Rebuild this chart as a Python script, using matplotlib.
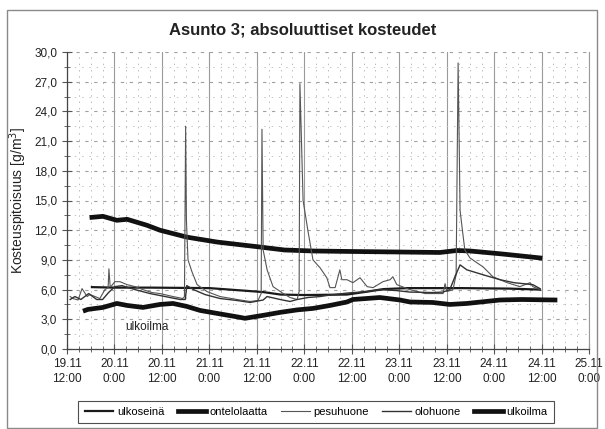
import matplotlib
matplotlib.use("Agg")
import matplotlib.pyplot as plt
from matplotlib.patches import Rectangle
from matplotlib.ticker import FixedLocator, FixedFormatter

plt.rcParams['font.family'] = ['Liberation Sans', 'DejaVu Sans']

# Time axis: hours from 19.11 12:00
x_tick_labels = ["19.11\n12:00", "20.11\n0:00", "20.11\n12:00", "21.11\n0:00",
                 "21.11\n12:00", "22.11\n0:00", "22.11\n12:00", "23.11\n0:00",
                 "23.11\n12:00", "24.11\n0:00", "24.11\n12:00", "25.11\n0:00"]
y_tick_labels = ["0,0", "3,0", "6,0", "9,0", "12,0", "15,0", "18,0", "21,0",
                 "24,0", "27,0", "30,0"]

ulkoseina_t = [6.3, 12.1, 21.0, 36.0, 41.2, 49.6, 54.0, 60.0, 70.8, 76.0, 80.0,
               86.0, 100.0, 112.0, 119.6]
ulkoseina_v = [6.25, 6.2, 6.2, 6.15, 6.0, 5.75, 5.5, 5.45, 5.5, 5.8, 6.05,
               6.15, 6.15, 6.1, 6.0]

ontelolaatta_t = [6.3, 9.1, 12.6, 15.2, 20.2, 23.5, 30.3, 38.0, 48.8, 55.0,
                  62.2, 72.0, 83.4, 94.3, 98.6, 101.9, 110.0, 119.6]
ontelolaatta_v = [13.3, 13.4, 13.0, 13.1, 12.5, 12.0, 11.3, 10.8, 10.3, 10.0,
                  9.9, 9.85, 9.8, 9.75, 9.95, 9.9, 9.6, 9.2]

pesuhuone_t = [0.8, 1.5, 2.8, 3.8, 5.1, 5.8, 7.1, 8.3, 9.6, 10.4, 10.6, 10.9,
               11.1, 12.1, 13.4, 15.2, 17.2, 19.2, 21.5, 23.5, 26.8, 29.3, 29.7,
               30.0, 30.2, 30.6, 31.6, 32.9, 35.4, 38.7, 43.0, 46.3, 48.3, 49.1,
               49.3, 49.6, 50.6, 52.1, 54.7, 56.4, 58.2, 58.7, 58.9, 59.7, 60.9,
               62.2, 64.0, 65.7, 66.5, 67.8, 69.0, 69.5, 70.8, 72.3, 74.1, 75.9,
               77.4, 79.9, 81.7, 82.4, 83.4, 86.7, 90.5, 95.1, 95.6, 96.1, 97.6,
               98.4, 98.9, 99.4, 99.9, 100.6, 101.9, 103.7, 105.2, 107.7, 111.3,
               114.5, 117.1, 117.8, 119.6]
pesuhuone_v = [5.3, 5.1, 4.95, 6.1, 5.3, 5.5, 5.3, 5.1, 6.0, 6.2, 8.1, 6.4,
               6.3, 6.8, 6.8, 6.5, 6.3, 6.0, 5.7, 5.6, 5.3, 5.1, 5.3,
               22.5, 13.0, 9.0, 7.8, 6.5, 5.8, 5.3, 5.0, 4.8, 4.9, 5.6,
               22.2, 10.0, 8.0, 6.3, 5.6, 5.2, 5.0, 5.8, 26.8, 15.0, 12.0,
               9.0, 8.2, 7.2, 6.2, 6.2, 8.0, 7.0, 7.0, 6.7, 7.2, 6.3,
               6.2, 6.8, 7.0, 7.3, 6.5, 6.0, 5.6, 5.6, 6.6, 5.8, 6.0,
               7.5, 28.9, 14.0, 12.3, 10.0, 9.2, 8.7, 8.3, 7.3, 6.7,
               6.3, 6.7, 6.3, 6.0]

olohuone_t = [0.8, 2.0, 3.5, 5.5, 7.5, 9.0, 10.5, 12.1, 13.9, 17.2, 21.0, 24.8,
              28.6, 29.9, 30.3, 32.0, 34.9, 38.7, 43.0, 46.3, 49.6, 50.6, 53.9,
              56.4, 58.2, 60.9, 64.0, 66.5, 70.8, 75.9, 79.1, 83.4, 86.7, 92.5,
              95.1, 96.8, 98.1, 99.4, 101.1, 105.2, 109.5, 113.0, 117.8, 119.6]
olohuone_v = [5.0, 5.3, 5.0, 5.6, 5.0, 5.0, 5.7, 6.3, 6.4, 6.0, 5.6, 5.3,
              5.0, 5.0, 6.4, 6.0, 5.5, 5.1, 4.9, 4.7, 4.95, 5.3, 5.0,
              4.8, 5.0, 5.2, 5.3, 5.45, 5.65, 5.8, 6.0, 5.9, 5.75, 5.7,
              5.75, 6.0, 7.3, 8.5, 8.0, 7.5, 7.0, 6.7, 6.5, 6.1]

ulkoilma_t = [4.6, 5.3, 9.1, 12.6, 15.2, 19.2, 23.5, 26.8, 30.3, 33.6, 37.9,
              43.7, 45.0, 49.6, 53.9, 58.2, 62.2, 66.5, 70.8, 72.3, 79.1, 84.2,
              86.7, 92.5, 96.8, 101.1, 109.5, 115.0, 123.4]
ulkoilma_v = [3.9, 4.0, 4.2, 4.6, 4.4, 4.2, 4.5, 4.6, 4.3, 3.9, 3.6,
              3.2, 3.1, 3.4, 3.7, 3.95, 4.1, 4.4, 4.75, 5.0, 5.2, 4.95,
              4.75, 4.7, 4.5, 4.6, 4.95, 5.0, 4.95]

x_major = [12 * i for i in range(len(x_tick_labels))]
x_minor = [3 * i for i in range(45) if i % 4]
y_major = [3 * i for i in range(len(y_tick_labels))]
y_minor = [1.5 + 3 * i for i in range(10)]

fig = plt.figure(figsize=(6.05, 4.29), dpi=100)
fig.patches.append(Rectangle((7 / 605, 1 / 429), 590 / 605, 418 / 429,
                             transform=fig.transFigure, fill=False,
                             edgecolor='#8a8a8a', linewidth=1.0))
ax = fig.add_axes([67 / 605, 1 - 349 / 429, 522 / 605, 297 / 429])

ax.set_xlim(0, 132)
ax.set_ylim(0, 30)
ax.xaxis.set_major_locator(FixedLocator(x_major))
ax.xaxis.set_minor_locator(FixedLocator(x_minor))
ax.yaxis.set_major_locator(FixedLocator(y_major))
ax.yaxis.set_minor_locator(FixedLocator(y_minor))
ax.xaxis.set_major_formatter(FixedFormatter(x_tick_labels))
ax.yaxis.set_major_formatter(FixedFormatter(y_tick_labels))

# Grid: solid major verticals, dotted/dashed elsewhere
ax.grid(axis='x', which='major', color='#9a9a9a', linewidth=0.8, linestyle='-')
ax.grid(axis='x', which='minor', color='#bbbbbb', linewidth=0.7, linestyle=(0, (1.5, 5)))
ax.grid(axis='y', which='major', color='#a0a0a0', linewidth=0.8, linestyle=(0, (3, 5)))
ax.grid(axis='y', which='minor', color='#c4c4c4', linewidth=0.7, linestyle=(0, (1.5, 6)))
ax.set_axisbelow(True)

ax.tick_params(axis='both', which='major', direction='inout', length=7, width=0.8,
               color='#555555', labelsize=8.5, labelcolor='#222222')
ax.tick_params(axis='both', which='minor', direction='inout', length=4, width=0.7,
               color='#666666')
ax.tick_params(axis='x', which='major', pad=3)
for lab in ax.get_xticklabels():
    lab.set_linespacing(1.35)

for s in ['left', 'bottom']:
    ax.spines[s].set_color('#444444')
    ax.spines[s].set_linewidth(0.9)
ax.spines['top'].set_visible(False)
ax.spines['right'].set_color('#9a9a9a')
ax.spines['right'].set_linewidth(0.8)

ax.plot(ulkoseina_t, ulkoseina_v, color='#1a1a1a', linewidth=1.6, label='ulkoseinä')
ax.plot(ontelolaatta_t, ontelolaatta_v, color='#111111', linewidth=3.4, label='ontelolaatta')
ax.plot(pesuhuone_t, pesuhuone_v, color='#555555', linewidth=0.8, label='pesuhuone')
ax.plot(olohuone_t, olohuone_v, color='#333333', linewidth=1.0, label='olohuone')
ax.plot(ulkoilma_t, ulkoilma_v, color='#111111', linewidth=3.4, label='ulkoilma')

ax.text(14.7, 2.2, 'ulkoilma', fontsize=8.5, color='#222222', va='center', ha='left')

ax.set_ylabel('Kosteuspitoisuus [g/m$^3$]', fontsize=10, color='#222222', labelpad=4)

fig.text(0.5, 1 - 30 / 429, 'Asunto 3; absoluuttiset kosteudet', ha='center',
         va='center', fontsize=12, fontweight='bold', color='#222222')

leg = fig.legend(loc='center', bbox_to_anchor=(316 / 605, 1 - 412 / 429), ncol=5,
                 fontsize=8, frameon=True, fancybox=False, handlelength=2.6,
                 handletextpad=0.3, columnspacing=1.2, borderpad=0.55)
leg.get_frame().set_edgecolor('#222222')
leg.get_frame().set_linewidth(0.8)

fig.savefig('out.png', dpi=100)
